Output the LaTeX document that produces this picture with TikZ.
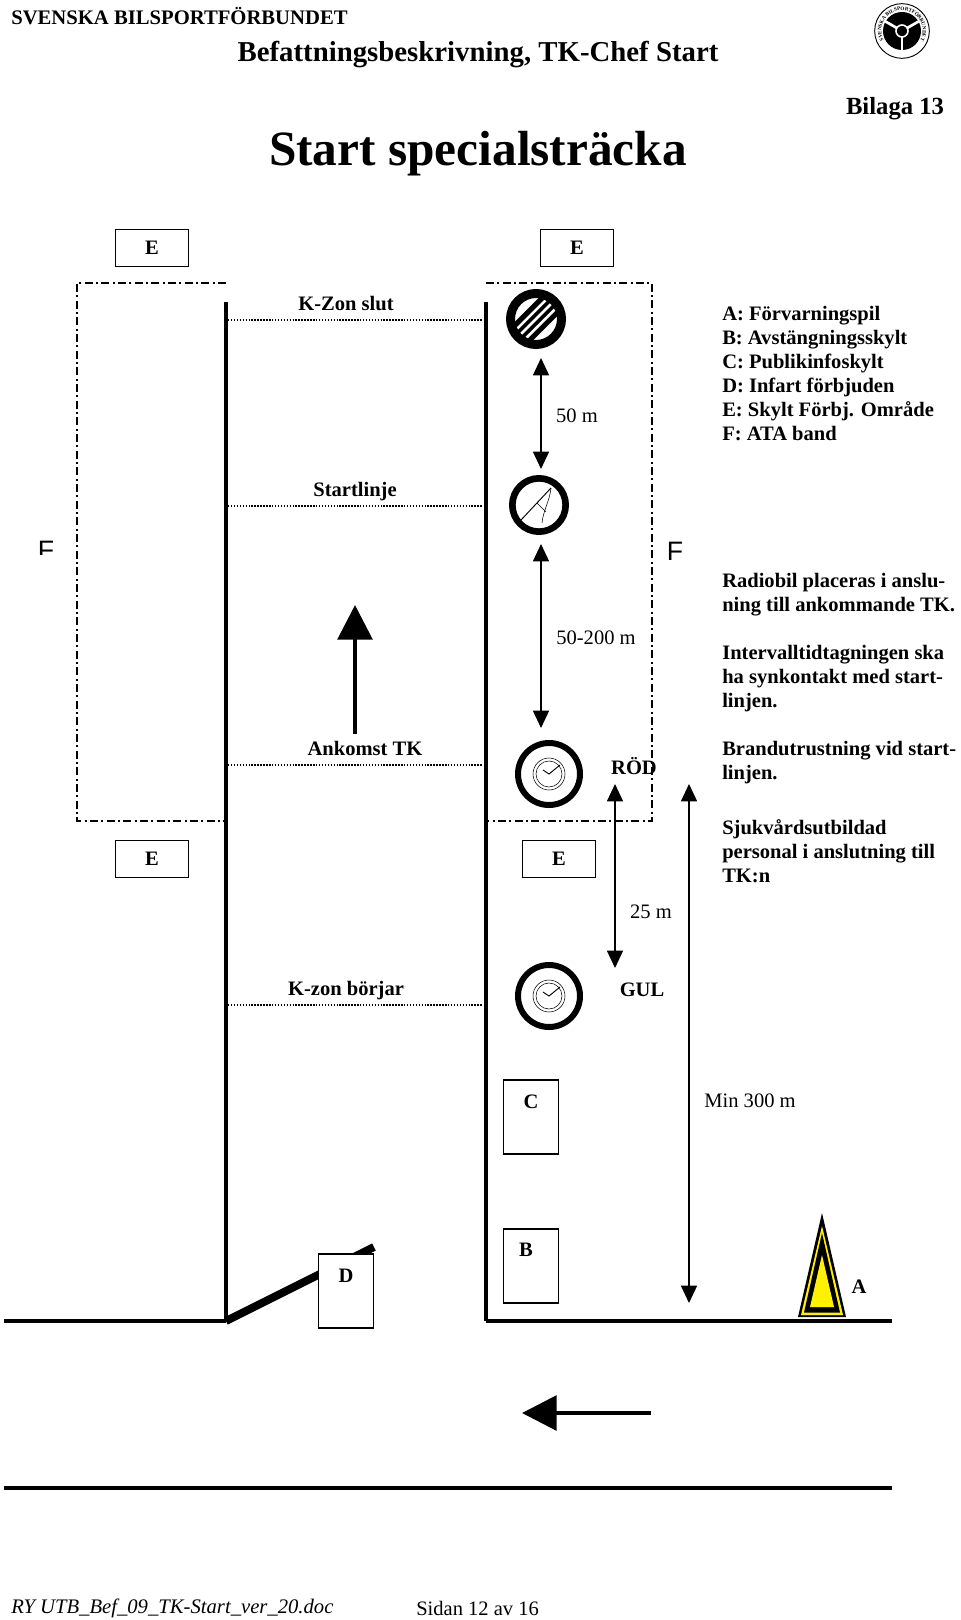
\documentclass[tikz,border=0pt]{standalone}
\usepackage{fontspec}
\setmainfont{Liberation Serif}
\newfontfamily\arialfont{Liberation Sans}
\usetikzlibrary{arrows.meta,positioning,calc,decorations.text}

\begin{document}
\begin{tikzpicture}[x=0.75pt, y=-0.75pt, >={Triangle[width=12pt,length=13pt]},
    road/.style={line width=3pt},
    dimline/.style={<->, line width=1.1pt},
    zone/.style={line width=1pt, dash pattern=on 6pt off 2.5pt on 1.5pt off 2.5pt},
    mark line/.style={line width=1pt, dash pattern=on 1.1pt off 1.1pt},
    plate/.style={draw, line width=0.8pt, fill=white, inner sep=0pt},
    eplate/.style={plate, minimum width=55pt, minimum height=28pt, font=\bfseries\fontsize{15.4}{18}\selectfont},
    tallplate/.style={plate, minimum width=41pt, minimum height=55.5pt},
    plain/.style={font=\fontsize{15.4}{18}\selectfont, inner sep=0pt},
    bold/.style={plain, font=\bfseries\fontsize{15.4}{18}\selectfont},
    note/.style={bold, anchor=north west, align=left},
    ringsign/.style={circle, draw, inner sep=0pt}
  ]
  \useasboundingbox (0,0) rectangle (960,1620);

  % header
  \node[anchor=west, bold, font=\bfseries\fontsize{15.5}{18}\selectfont] (org) at (11,16) {SVENSKA BILSPORTFÖRBUNDET};
  \node[font=\bfseries\fontsize{21.6}{25}\selectfont, inner sep=0pt] (job) at (478,55) {Befattningsbeskrivning, TK-Chef Start};
  \node[font=\bfseries\fontsize{18.5}{21}\selectfont, inner sep=0pt] (annex) at (895,109) {Bilaga 13};
  \node[font=\bfseries\fontsize{37}{42}\selectfont, inner sep=0pt] (title) at (478,154) {Start specialsträcka};

  % logo
  \node[circle, draw, line width=0.7pt, minimum size=41pt, inner sep=0pt] (logo) at (902,31) {};
  \node[circle, fill=black, minimum size=28.5pt, inner sep=0pt] (wheel) at (logo) {};
  \foreach \ang in {-90,30,150}
    \draw[white, line width=2pt] (wheel.center) -- (wheel.\ang);
  \node[circle, draw=white, fill=black, line width=1.2pt, minimum size=9pt, inner sep=0pt] (hub) at (wheel) {};
  \path[decorate, decoration={text along path, text align=center,
      text={|\bfseries\fontsize{3.9}{4}\selectfont|SVENSKA BILSPORTFÖRBUNDET}}]
    ($(logo)+(-16.3,12.7)$) arc[start angle=218, end angle=-38, radius=15.5pt];

  % plates E
  \node[eplate] (e1) at (152,248) {E};
  \node[eplate] (e2) at (577,248) {E};
  \node[eplate] (e3) at (152,859) {E};
  \node[eplate] (e4) at (559,859) {E};

  % road
  \coordinate (lefttop) at (226,302);
  \coordinate (rightop) at (486,302);
  \coordinate (leftcorner) at (226,1321);
  \coordinate (rightcorner) at (486,1321);
  \coordinate (farleft) at (4,1321);
  \coordinate (farright) at (892,1321);
  \coordinate (lowleft) at (4,1488);
  \coordinate (lowright) at (892,1488);
  \coordinate (gate) at (374,1247);
  \draw[road] (lefttop) -- (leftcorner);
  \draw[road] (rightop) -- (rightcorner);
  \draw[road] (farleft) -- (leftcorner);
  \draw[road] (rightcorner) -- (farright);
  \draw[road] (lowleft) -- (lowright);
  \draw[line width=6pt] (leftcorner) -- (gate);

  % zones
  \coordinate (zl1) at (226,283);
  \coordinate (zl2) at (77,283);
  \coordinate (zl3) at (77,821);
  \coordinate (zl4) at (226,821);
  \coordinate (zr1) at (486,283);
  \coordinate (zr2) at (652,283);
  \coordinate (zr3) at (652,821);
  \coordinate (zr4) at (486,821);
  \draw[zone] (zl1) -- (zl2) -- (zl3) -- (zl4);
  \draw[zone] (zr1) -- (zr2) -- (zr3) -- (zr4);
  \begin{scope}
    \clip (30,530) rectangle (60,554);
    \node[font=\arialfont\fontsize{20}{24}\selectfont, inner sep=0pt] (fleft) at (46,550) {F};
  \end{scope}
  \node[font=\arialfont\fontsize{20}{24}\selectfont, inner sep=0pt] (fright) at (675,551) {F};

  % cross lines and their labels
  \foreach \yy/\nm/\txt/\xx in {320/kend/K-Zon slut/346, 506/startl/Startlinje/355, 765/arrival/Ankomst TK/365, 1005/kstart/K-zon börjar/346} {
    \draw[mark line] (228,\yy) -- (483,\yy);
    \node[bold, anchor=base] (\nm) at (\xx,\yy-10) {\txt};
  }

  % signs
  \coordinate (nopassc) at (536,319);
  \begin{scope}
    \clip (nopassc) circle[radius=19.5pt];
    \draw[line width=19.5pt] ($(nopassc)+(-24,24)$) -- ($(nopassc)+(24,-24)$);
    \foreach \off in {-4.6,0,4.6}
      \draw[white, line width=1.9pt] ($(nopassc)+(-24+\off,24+\off)$) -- ($(nopassc)+(24+\off,-24+\off)$);
  \end{scope}
  \node[ringsign, line width=6.75pt, minimum size=38.25pt] (nopass) at (nopassc) {};
  \node[ringsign, line width=5pt, minimum size=40pt] (parkhorn) at (539,505) {};
  \draw[line width=0.7pt] ($(parkhorn)+(-18,15)$) -- ($(parkhorn)+(12,-17)$);
  \draw[line width=0.4pt] ($(parkhorn)+(12,-17)$) .. controls ($(parkhorn)+(11,-5)$) and ($(parkhorn)+(4,6)$) .. ($(parkhorn)+(3,18)$);
  \draw[line width=0.4pt] ($(parkhorn)+(-2,-2)$) -- ($(parkhorn)+(7,7)$);
  \foreach \nm/\yy in {redclock/774, yellowclock/996} {
    \node[ringsign, line width=4.5pt, minimum size=46.5pt] (\nm) at (549,\yy) {};
    \node[ringsign, line width=0.4pt, minimum size=24pt] (\nm o) at (\nm) {};
    \node[ringsign, line width=0.4pt, minimum size=19.5pt] (\nm i) at (\nm) {};
    \draw[line width=0.7pt] ($(\nm)+(-6,-4)$) -- (\nm.center) -- ($(\nm)+(11,-9)$);
  }
  \node[bold] (red) at (634,766) {RÖD};
  \node[bold] (yellow) at (642,990) {GUL};

  % distances
  \coordinate (d1a) at (541,358);
  \coordinate (d1b) at (541,469);
  \coordinate (d2a) at (541,544);
  \coordinate (d2b) at (541,728);
  \coordinate (d3a) at (615,784);
  \coordinate (d3b) at (615,968);
  \coordinate (d4a) at (689,784);
  \coordinate (d4b) at (689,1303);
  \draw[dimline] (d1a) -- (d1b);
  \draw[dimline] (d2a) -- (d2b);
  \draw[dimline] (d3a) -- (d3b);
  \draw[dimline] (d4a) -- (d4b);
  \node[plain] (m50) at (577,416) {50 m};
  \node[plain] (m200) at (596,638) {50-200 m};
  \node[plain] (m25) at (651,912) {25 m};
  \node[plain] (m300) at (750,1101) {Min 300 m};

  % plates C B D
  \node[tallplate] (cplate) at (531,1117) {};
  \node[bold] (clabel) at (531,1102) {C};
  \node[tallplate] (bplate) at (531,1266) {};
  \node[bold] (blabel) at (526,1250) {B};
  \node[tallplate] (dplate) at (346,1291) {};
  \node[bold] (dlabel) at (346,1276) {D};

  % warning arrow A
  \coordinate (tipa) at (822,1213);
  \coordinate (tipb) at (846,1317);
  \coordinate (tipc) at (798,1317);
  \fill[black] (tipa) -- (tipb) -- (tipc) -- cycle;
  \fill[yellow] (822,1226) -- (843,1315) -- (801,1315) -- cycle;
  \fill[black] (822,1233) -- (840,1312.5) -- (804,1312.5) -- cycle;
  \fill[yellow] (822,1255) -- (834,1307) -- (810,1307) -- cycle;
  \node[bold] (alabel) at (859,1287) {A};

  % driving direction
  \coordinate (upa) at (355,734);
  \coordinate (upb) at (355,605);
  \coordinate (lefta) at (651,1413);
  \coordinate (leftb) at (522,1413);
  \draw[->, line width=3pt, >={Triangle[width=26pt,length=26pt]}] (upa) -- (upb);
  \draw[->, line width=3pt, >={Triangle[width=26pt,length=26pt]}] (lefta) -- (leftb);

  % notes
  \node[note] (legend) at (722,306) {A: Förvarningspil\\B: Avstängningsskylt\\C: Publikinfoskylt\\D: Infart förbjuden\\E: Skylt Förbj. Område\\F: ATA band};
  \node[note] (radio) at (722,573) {Radiobil placeras i anslu-\\ning till ankommande TK.};
  \node[note] (timing) at (722,645) {Intervalltidtagningen ska\\ha synkontakt med start-\\linjen.};
  \node[note] (fire) at (722,741) {Brandutrustning vid start-\\linjen.};
  \node[note] (care) at (722,819) {Sjukvårdsutbildad\\personal i anslutning till\\TK:n};

  % footer
  \node[anchor=west, plain, font=\itshape\fontsize{15.5}{18}\selectfont] (docname) at (11,1608) {RY UTB\_Bef\_09\_TK-Start\_ver\_20.doc};
  \node[anchor=west, plain] (pageno) at (416,1608) {Sidan 12 av 16};
\end{tikzpicture}
\end{document}
